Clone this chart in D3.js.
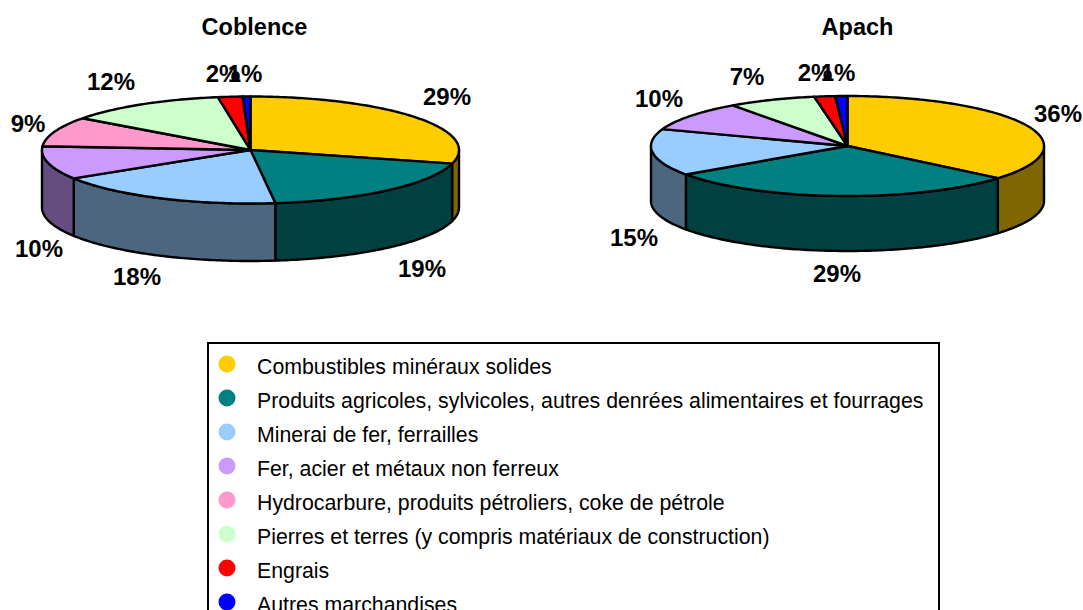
<!DOCTYPE html>
<html>
<head>
<meta charset="utf-8">
<script src="https://cdnjs.cloudflare.com/ajax/libs/d3/7.8.5/d3.min.js"></script>
<style>
  html, body { margin: 0; padding: 0; background: #fff; overflow: hidden; }
  text { font-family: "Liberation Sans", Arial, sans-serif; fill: #000; }
</style>
</head>
<body>
<svg id="chart" width="1083" height="610"></svg>
<script>
var categories = [
  "Combustibles minéraux solides",
  "Produits agricoles, sylvicoles, autres denrées alimentaires et fourrages",
  "Minerai de fer, ferrailles",
  "Fer, acier et métaux non ferreux",
  "Hydrocarbure, produits pétroliers, coke de pétrole",
  "Pierres et terres (y compris matériaux de construction)",
  "Engrais",
  "Autres marchandises"
]
var topColors = ["#ffcc00", "#008080", "#99ccff", "#cc99ff", "#ff99cc", "#ccffcc", "#ff0000", "#0000ff"]

var coblenceValues = [29.1, 19, 18, 10, 9, 12.4, 1.9, 0.6]
var apachValues = [36.1, 29.2, 15.1, 9.6, 0, 7.2, 1.7, 1.0]

var svg = d3.select("#chart")
var shade = function (c) {
  var r = d3.rgb(c)
  return d3.rgb(r.r / 2, r.g / 2, r.b / 2).formatHex()
}

var drawPie = function (title, values, box, labelSpots, blob) {
  var g = svg.append("g")
  var slices = d3.pie().sort(null).value(d => d)(values)

  // ellipse point for a pie angle, 0 at the top, going clockwise
  var px = a => box.cx + box.rx * Math.sin(a)
  var py = a => box.cy - box.ry * Math.cos(a)
  var sample = function (a0, a1) {
    var n = Math.max(2, Math.ceil((a1 - a0) * 60))
    return d3.range(n + 1).map(i => a0 + (a1 - a0) * i / n)
  }
  var line = d3.line()

  // walls, only the front half of the rim shows
  slices.forEach(function (s, i) {
    var a0 = Math.max(s.startAngle, Math.PI / 2)
    var a1 = Math.min(s.endAngle, Math.PI * 1.5)
    if (a1 <= a0) return
    var rim = sample(a0, a1)
    var pts = rim.map(a => [px(a), py(a)])
      .concat(rim.slice().reverse().map(a => [px(a), py(a) + box.depth]))
    g.append("path")
      .attr("d", line(pts) + "Z")
      .attr("fill", shade(topColors[i]))
      .attr("stroke", "#000")
      .attr("stroke-width", 2.4)
      .attr("stroke-linejoin", "round")
  })

  // top faces
  slices.forEach(function (s, i) {
    if (s.value === 0) return
    var pts = [[box.cx, box.cy]].concat(sample(s.startAngle, s.endAngle).map(a => [px(a), py(a)]))
    g.append("path")
      .attr("d", line(pts) + "Z")
      .attr("fill", topColors[i])
      .attr("stroke", "#000")
      .attr("stroke-width", 2.4)
      .attr("stroke-linejoin", "round")
  })

  g.append("text")
    .attr("x", box.cx + box.titleDx)
    .attr("y", 35)
    .attr("text-anchor", "middle")
    .attr("font-size", 23.5)
    .attr("font-weight", "bold")
    .text(title)

  var pct = d3.format(".0f")
  slices.forEach(function (s, i) {
    if (s.value === 0) return
    g.append("text")
      .attr("x", labelSpots[i][0])
      .attr("y", labelSpots[i][1])
      .attr("text-anchor", "middle")
      .attr("font-size", 24)
      .attr("font-weight", "bold")
      .text(pct(s.value) + "%")
  })

  // stub of the leader line under the crowded 2% and 1% labels
  g.append("circle")
    .attr("cx", blob.x)
    .attr("cy", blob.y)
    .attr("r", blob.r)
    .attr("fill", blob.fill)
    .attr("stroke", "#000")
    .attr("stroke-width", 2)
}

drawPie("Coblence", coblenceValues, {cx: 250.5, cy: 150, rx: 208.5, ry: 53.5, depth: 57.5, titleDx: 4},
  [[447, 105], [422, 277], [137, 285], [39, 257], [28, 132], [111, 90], [223, 82], [245, 82]],
  {x: 235, y: 77, r: 2.5, fill: "none"})
drawPie("Apach", apachValues, {cx: 847.5, cy: 146, rx: 196.5, ry: 50, depth: 55, titleDx: 10},
  [[1058, 122], [837, 282], [634, 246], [659, 107], [0, 0], [747, 85], [815, 81], [838, 81]],
  {x: 828, y: 77, r: 2.5, fill: "#000"})

// legend, runs off the bottom of the picture
svg.append("rect")
  .attr("x", 208).attr("y", 343)
  .attr("width", 731).attr("height", 300)
  .attr("fill", "#fff")
  .attr("stroke", "#000")
  .attr("stroke-width", 2)

var legendY = d3.scalePoint().domain(categories).range([366, 604])

var legend = svg.selectAll("g.legend-row")
  .data(categories)
  .join("g")
  .attr("class", "legend-row")

legend.append("circle")
  .attr("cx", 227)
  .attr("cy", d => legendY(d) - 2)
  .attr("r", 8.5)
  .attr("fill", (d, i) => topColors[i])

legend.append("text")
  .attr("x", 257)
  .attr("y", d => legendY(d) + 8)
  .attr("font-size", 21.3)
  .text(d => d)
</script>
</body>
</html>
